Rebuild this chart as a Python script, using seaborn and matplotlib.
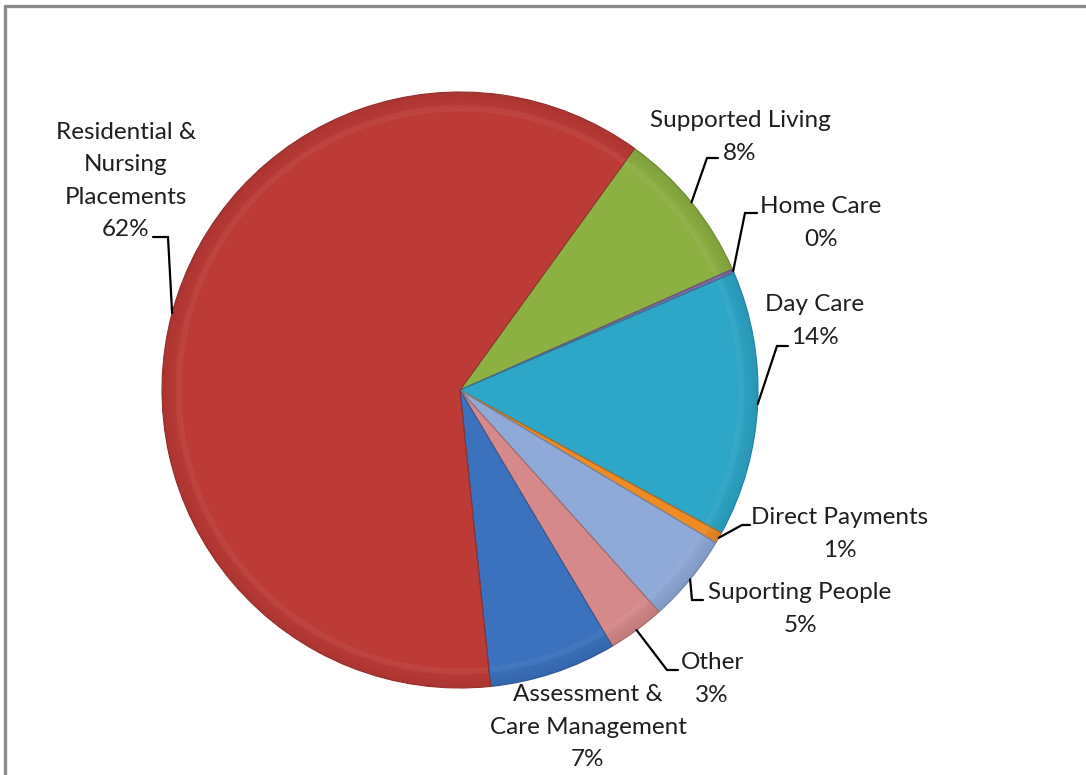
import numpy as np
import matplotlib
matplotlib.use("Agg")
import matplotlib.pyplot as plt
import seaborn as sns
from matplotlib.patches import Wedge
from matplotlib.colors import to_rgb

# Spend split by service area (percent of total budget)
categories = ["Supported Living", "Home Care", "Day Care", "Direct Payments",
              "Suporting People", "Other", "Assessment &\nCare Management",
              "Residential &\nNursing\nPlacements"]
shares = [8.4, 0.2, 14.4, 0.6, 4.8, 3.1, 6.9, 61.6]
colors = ["#8DB043", "#8466A8", "#2EA6C7", "#EE8B24",
          "#8FAAD8", "#D5898A", "#3B71BD", "#BD3B37"]

# Canvas is laid out in pixel units (origin bottom-left)
W, H = 1086, 775
CX, CY, R = 460, H - 390, 298

# Label block centres and leader elbows (x, y measured from the top edge)
label_pos = [(740, 137), (821, 223), (815, 321), (840, 534),
             (800, 609), (712, 679), (588, 727), (126, 181)]
leader = [((718, 158), (707, 158)), ((757, 213), (745, 213)),
          ((788, 346), (777, 346)), ((750, 525), (742, 525)),
          ((703, 600), (692, 600)), ((678, 670), (667, 670)),
          None, ((153, 237), (168, 237))]

sns.set_theme(style="white")
plt.rcParams["font.family"] = ["Lato", "DejaVu Sans"]

fig = plt.figure(figsize=(W / 100, H / 100), dpi=100)
ax = fig.add_axes([0, 0, 1, 1])


def darker(c, f):
    r, g, b = to_rgb(c)
    return (r * f, g * f, b * f)


wedges, _ = ax.pie(shares, radius=R, center=(CX, CY), startangle=54.15,
                   counterclock=False, colors=colors,
                   wedgeprops=dict(edgecolor="none", linewidth=0))

# Bevel shading: darken toward the rim and outline each slice
for w, c in zip(wedges, colors):
    t1, t2 = w.theta1, w.theta2
    steps = 10
    for k in range(steps):
        r_out = R * (1 - 0.06 * k / steps)
        ax.add_patch(Wedge((CX, CY), r_out, t1, t2, width=R * 0.06 / steps,
                           facecolor=(0, 0, 0), alpha=0.09 * (steps - k) / steps,
                           edgecolor="none", zorder=2))
    ax.add_patch(Wedge((CX, CY), R * 0.955, t1, t2, width=R * 0.02,
                       facecolor="white", alpha=0.05, edgecolor="none", zorder=2))
    ax.add_patch(Wedge((CX, CY), R, t1, t2, facecolor="none",
                       edgecolor=darker(c, 0.78), linewidth=0.8, zorder=3))

# Labels with elbow leader lines to the middle of each slice's arc
for name, val, w, (lx, ly), ld in zip(categories, shares, wedges, label_pos, leader):
    ax.text(lx, H - ly, f"{name}\n{val:.0f}%", ha="center", va="center",
            multialignment="center", fontsize=17.5, color="#1E1E1E",
            linespacing=1.66, zorder=5)
    if ld is not None:
        mid = np.deg2rad((w.theta1 + w.theta2) / 2)
        ax_, ay_ = CX + R * np.cos(mid), CY + R * np.sin(mid)
        (sx, sy), (ex, ey) = ld
        ax.plot([sx, ex, ax_], [H - sy, H - ey, ay_], color="black",
                linewidth=1.6, solid_joinstyle="miter", zorder=4)

# Chart-area frame (top and left edges)
ax.plot([5, W], [H - 6, H - 6], color="#8A8A8A", linewidth=2.4, clip_on=False)
ax.plot([5, 5], [H - 6, 0], color="#8A8A8A", linewidth=2.4, clip_on=False)

ax.set_xlim(0, W)
ax.set_ylim(0, H)
ax.set_aspect("auto")
ax.axis("off")

fig.savefig("out.png", dpi=100, facecolor="white")
